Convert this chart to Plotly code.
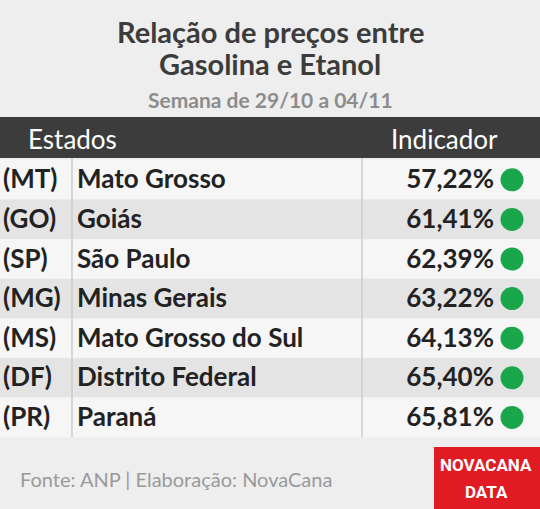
import plotly.graph_objects as go

siglas = ["(MT)", "(GO)", "(SP)", "(MG)", "(MS)", "(DF)", "(PR)"]
estados = ["Mato Grosso", "Goiás", "São Paulo", "Minas Gerais",
           "Mato Grosso do Sul", "Distrito Federal", "Paraná"]
indicador = [57.22, 61.41, 62.39, 63.22, 64.13, 65.40, 65.81]

W, H = 540, 509
top = 160
row_h = 39.6
ys = [top + row_h * (i + 0.5) for i in range(len(estados))]
ys_txt = [y + 2 for y in ys]

fig = go.Figure()
F = "Lato"

shapes = [
    dict(type="rect", x0=0, x1=W, y0=0, y1=H, fillcolor="#eeeeee", line_width=0, layer="below"),
    dict(type="rect", x0=0, x1=W, y0=117, y1=158, fillcolor="#3c3c3c", line_width=0, layer="below"),
]
for i, y in enumerate(ys):
    shapes.append(dict(type="rect", x0=0, x1=W, y0=y - row_h / 2, y1=y + row_h / 2,
                       fillcolor="#f6f6f6" if i % 2 == 0 else "#e4e4e4",
                       line_width=0, layer="below"))
shapes += [
    dict(type="line", x0=72, x1=72, y0=158, y1=top + row_h * 7, line=dict(color="#cccccc", width=1.5)),
    dict(type="line", x0=362, x1=362, y0=158, y1=top + row_h * 7, line=dict(color="#cccccc", width=1.5)),
    dict(type="rect", x0=434, x1=W, y0=447, y1=H, fillcolor="#e01b24", line_width=0),
]

ann = [
    dict(x=270, y=31, text="Relação de preços entre", font=dict(size=29, color="#3c3c3c", family=F)),
    dict(x=270, y=63, text="Gasolina e Etanol", font=dict(size=29, color="#3c3c3c", family=F)),
    dict(x=270, y=99, text="Semana de 29/10 a 04/11", font=dict(size=21, color="#8c8c8c", family=F)),
    dict(x=26, y=139, text="Estados", xanchor="left", font=dict(size=26, color="white", family=F)),
    dict(x=500, y=139, text="Indicador", xanchor="right", font=dict(size=26, color="white", family=F)),
    dict(x=18, y=479, text="Fonte: ANP | Elaboração: NovaCana", xanchor="left",
         font=dict(size=20, color="#9a9a9a", family=F)),
    dict(x=486, y=465, text="<b>NOVACANA</b>", font=dict(size=17, color="white", family="Roboto")),
    dict(x=486, y=492, text="<b>DATA</b>", font=dict(size=17, color="white", family="Roboto")),
]
for a in ann:
    a.update(xref="x", yref="y", showarrow=False, yanchor="middle")
    a.setdefault("xanchor", "center")
    if "<b>" not in a["text"] and a["y"] < 130:
        a["text"] = "<b>" + a["text"] + "</b>"

fig.add_trace(go.Scatter(x=[3] * 7, y=ys_txt, text=["<b>%s</b>" % s for s in siglas], mode="text",
                         textposition="middle right", textfont=dict(size=26, color="#222222", family=F)))
fig.add_trace(go.Scatter(x=[77] * 7, y=ys_txt, text=["<b>%s</b>" % s for s in estados], mode="text",
                         textposition="middle right", textfont=dict(size=26, color="#222222", family=F)))
fig.add_trace(go.Scatter(x=[494] * 7, y=ys_txt,
                         text=["<b>%s%%</b>" % f"{v:.2f}".replace(".", ",") for v in indicador],
                         mode="text", textposition="middle left",
                         textfont=dict(size=26, color="#222222", family=F)))
fig.add_trace(go.Scatter(x=[512] * 7, y=ys, mode="markers",
                         marker=dict(size=23, color="#1aa64b", line_width=0)))

fig.update_layout(width=W, height=H, margin=dict(l=0, r=0, t=0, b=0), showlegend=False,
                  shapes=shapes, annotations=ann, paper_bgcolor="#eeeeee", plot_bgcolor="#eeeeee",
                  xaxis=dict(range=[0, W], visible=False, fixedrange=True),
                  yaxis=dict(range=[H, 0], visible=False, fixedrange=True))
fig.write_html("out.html", config={"displayModeBar": False},
               post_script="document.body.style.margin='0';")
